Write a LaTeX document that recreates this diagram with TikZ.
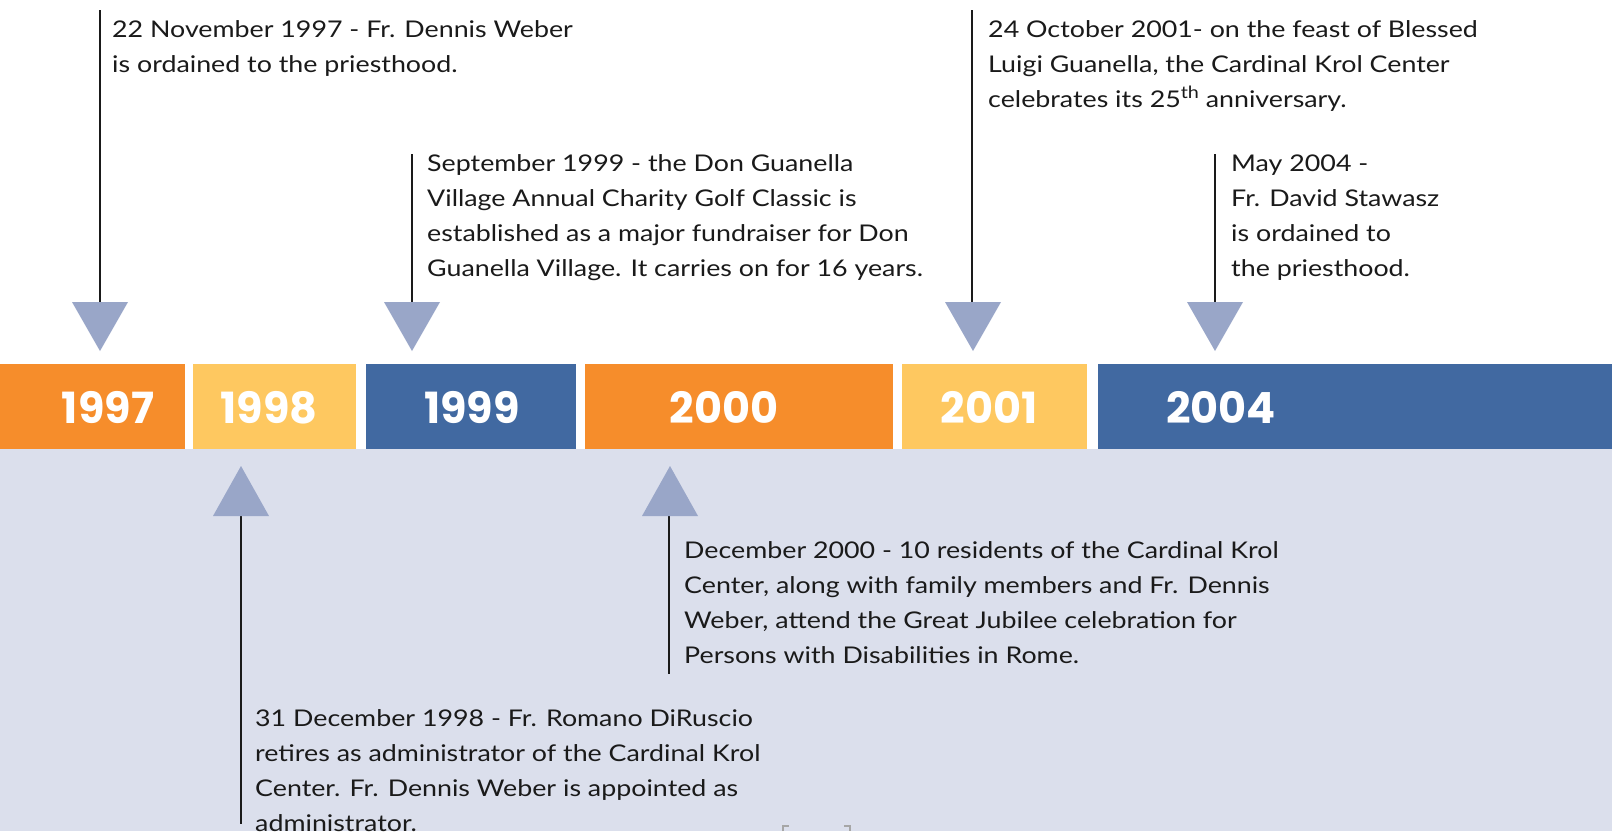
\documentclass[tikz,border=0pt]{standalone}
\usepackage{fontspec}
\setmainfont{Lato}[FakeStretch=1.165]
\newfontfamily\yearfont{Poppins}
\definecolor{orng}{HTML}{F68D2B}
\definecolor{yell}{HTML}{FEC860}
\definecolor{blu}{HTML}{4169A1}
\definecolor{lav}{HTML}{DBDFEC}
\definecolor{tri}{HTML}{99A6C8}
\definecolor{ink}{HTML}{1A1A1A}
\tikzset{
  downtri/.pic={\fill[tri] (-28,0) -- (28,0) -- (0,49) -- cycle;},
  uptri/.pic={\fill[tri] (-28,0) -- (28,0) -- (0,-50) -- cycle;},
}
\newcommand{\supth}{\raisebox{0.36em}{\fontsize{17}{17}\selectfont th}}
\begin{document}
\begin{tikzpicture}[x=1pt,y=-1pt,
  yeartext/.style={anchor=base, text=white, inner sep=0,
    font=\yearfont\bfseries\fontsize{43}{43}\selectfont},
  evtext/.style={anchor=base west, align=left, inner sep=0, text=ink,
    font=\fontsize{23}{35}\selectfont},
  stem/.style={line width=2.8pt, draw=ink},
]
\useasboundingbox (0,0) rectangle (1612,831);
\fill[white] (0,0) rectangle (1612,831);
\fill[lav] (0,449) rectangle (1612,831);
% year bars
\fill[orng] (0,364) rectangle (185,449);
\fill[yell] (193,364) rectangle (356,449);
\fill[blu] (366,364) rectangle (576,449);
\fill[orng] (585,364) rectangle (893,449);
\fill[yell] (902,364) rectangle (1087,449);
\fill[blu] (1098,364) rectangle (1612,449);
\node[yeartext] (y1997) at (108,423) {1997};
\node[yeartext] (y1998) at (269,423) {1998};
\node[yeartext] (y1999) at (472,423) {1999};
\node[yeartext] (y2000) at (724,423) {2000};
\node[yeartext] (y2001) at (989,423) {2001};
\node[yeartext] (y2004) at (1221,423) {2004};
% stems
\coordinate (t97) at (100,10);   \coordinate (b97) at (100,303);
\coordinate (t99) at (412,154);  \coordinate (b99) at (412,303);
\coordinate (t01) at (972,10);   \coordinate (b01) at (972,303);
\coordinate (t04) at (1215,154); \coordinate (b04) at (1215,303);
\coordinate (t98) at (241,515);  \coordinate (b98) at (241,824);
\coordinate (t00) at (669,515);  \coordinate (b00) at (669,674);
\draw[stem] (t97) -- (b97);
\draw[stem] (t99) -- (b99);
\draw[stem] (t01) -- (b01);
\draw[stem] (t04) -- (b04);
\draw[stem] (t98) -- (b98);
\draw[stem] (t00) -- (b00);
% triangles
\pic at (100,302) {downtri};
\pic at (412,302) {downtri};
\pic at (973,302) {downtri};
\pic at (1215,302) {downtri};
\pic at (241,516) {uptri};
\pic at (670,516) {uptri};
% event texts (anchored at the baseline of their last line)
\node[evtext] (e1997) at (112,72) {22 November 1997 - Fr. Dennis Weber\\is ordained to the priesthood.};
\node[evtext] (e1999) at (427,276) {September 1999 - the Don Guanella\\Village Annual Charity Golf Classic is\\established as a major fundraiser for Don\\Guanella Village. It carries on for 16 years.};
\node[evtext] (e2001) at (988,107) {24 October 2001- on the feast of Blessed\\Luigi Guanella, the Cardinal Krol Center\\celebrates its 25\supth{} anniversary.};
\node[evtext] (e2004) at (1231,276) {May 2004 -\\Fr. David Stawasz\\is ordained to\\the priesthood.};
\node[evtext] (e1998) at (255,831) {31 December 1998 - Fr. Romano DiRuscio\\retires as administrator of the Cardinal Krol\\Center. Fr. Dennis Weber is appointed as\\administrator.};
\node[evtext] (e2000) at (684,663) {December 2000 - 10 residents of the Cardinal Krol\\Center, along with family members and Fr. Dennis\\Weber, attend the Great Jubilee celebration for\\Persons with Disabilities in Rome.};
% corner marks
\draw[gray!70, line width=1.2pt] (783,831) -- (783,826) -- (789,826);
\draw[gray!70, line width=1.2pt] (844,826) -- (850,826) -- (850,831);
\end{tikzpicture}
\end{document}
